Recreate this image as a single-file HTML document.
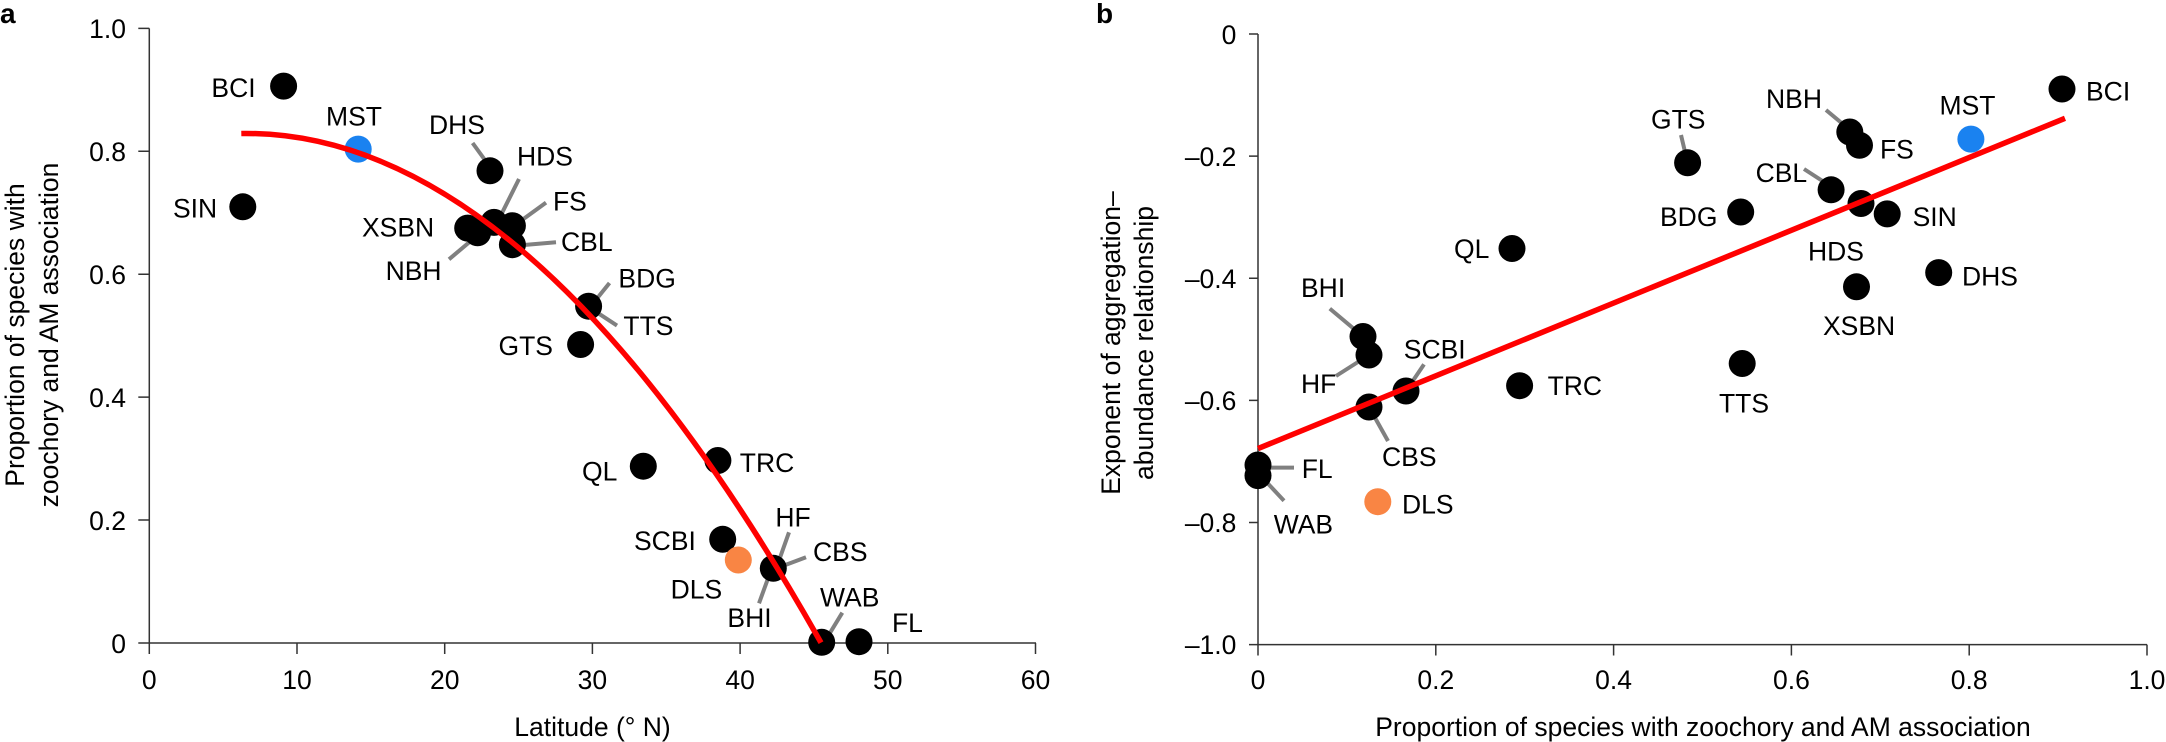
<!DOCTYPE html>
<html><head><meta charset="utf-8"><style>
html,body{margin:0;padding:0;background:#fff;}
svg{display:block;font-family:"Liberation Sans",Arial,sans-serif;}
text{font-size:26.5px;fill:#000;}
.ax{stroke:#333;stroke-width:1.5;fill:none;}
.ld{stroke:#808080;stroke-width:4;}
.k{fill:#000;}
</style></head><body>
<svg width="2166" height="742" viewBox="0 0 2166 742" xmlns="http://www.w3.org/2000/svg">
<!-- Panel a -->
<text x="0" y="23" style="font-weight:bold;font-size:28px">a</text>
<path class="ax" d="M149.3,28.4V643H1036M138.3,28.4H149.3M138.3,151.3H149.3M138.3,274.2H149.3M138.3,397.1H149.3M138.3,520H149.3M138.3,643H149.3M149.3,643V654M297,643V654M444.7,643V654M592.4,643V654M740.1,643V654M887.8,643V654M1035.5,643V654"/>
<g text-anchor="end">
<text x="126" y="38">1.0</text><text x="126" y="161">0.8</text><text x="126" y="284">0.6</text><text x="126" y="407">0.4</text><text x="126" y="530">0.2</text><text x="126" y="653">0</text>
</g>
<g text-anchor="middle">
<text x="149.3" y="689">0</text><text x="297" y="689">10</text><text x="444.7" y="689">20</text><text x="592.4" y="689">30</text><text x="740.1" y="689">40</text><text x="887.8" y="689">50</text><text x="1035.5" y="689">60</text>
<text x="592.5" y="736">Latitude (° N)</text>
<text transform="translate(24,335) rotate(-90)">Proportion of species with</text>
<text transform="translate(58,335) rotate(-90)">zoochory and AM association</text>
</g>
<g class="ld">
<line x1="472.6" y1="143" x2="492.5" y2="170.4"/>
<line x1="519" y1="179" x2="495" y2="227"/>
<line x1="546" y1="202.6" x2="512.4" y2="227"/>
<line x1="556" y1="242.3" x2="512.4" y2="246"/>
<line x1="449" y1="259.3" x2="481.6" y2="231.9"/>
<line x1="609.5" y1="283" x2="589.6" y2="307.6"/>
<line x1="617" y1="325.6" x2="589.6" y2="307.6"/>
<line x1="789" y1="532.3" x2="776.7" y2="567"/>
<line x1="806" y1="557.3" x2="780" y2="567"/>
<line x1="759" y1="603.3" x2="770" y2="573"/>
<line x1="842.3" y1="612.7" x2="826.7" y2="638.3"/>
</g>
<g class="k">
<circle cx="283.6" cy="86.1" r="13.5"/>
<circle cx="242.8" cy="206.8" r="13.5"/>
<circle cx="490" cy="170.8" r="13.5"/>
<circle cx="467.7" cy="228.1" r="13.5"/>
<circle cx="477.6" cy="232.8" r="13.5"/>
<circle cx="494" cy="222.4" r="13.5"/>
<circle cx="512.4" cy="225.7" r="13.5"/>
<circle cx="512.4" cy="244.7" r="13.5"/>
<circle cx="588.6" cy="306.2" r="13.5"/>
<circle cx="580.6" cy="344.5" r="13.5"/>
<circle cx="643.3" cy="466.2" r="13.5"/>
<circle cx="717.9" cy="460.5" r="13.5"/>
<circle cx="722.7" cy="539.3" r="13.5"/>
<circle cx="773.3" cy="568.3" r="13.5"/>
<circle cx="821.7" cy="642.3" r="13.5"/>
<circle cx="859" cy="641.7" r="13.5"/>
</g>
<circle cx="358.2" cy="149.1" r="13.5" fill="#1a82f0"/>
<circle cx="738.3" cy="560" r="13.5" fill="#f98544"/>
<path d="M241.3,133.5 Q531.2,129 821,642.7" stroke="#ff0000" stroke-width="5.5" fill="none"/>
<g>
<text x="211.4" y="97">BCI</text>
<text x="326" y="125.4">MST</text>
<text x="173" y="217.7">SIN</text>
<text x="429" y="134">DHS</text>
<text x="517" y="165.6">HDS</text>
<text x="553" y="210.6">FS</text>
<text x="362" y="236.6">XSBN</text>
<text x="561" y="250.8">CBL</text>
<text x="385.6" y="280">NBH</text>
<text x="618.4" y="287.7">BDG</text>
<text x="623.4" y="335">TTS</text>
<text x="498.5" y="355">GTS</text>
<text x="582" y="480.4">QL</text>
<text x="739.8" y="471.8">TRC</text>
<text x="634" y="550">SCBI</text>
<text x="670.6" y="598.7">DLS</text>
<text x="727.4" y="627">BHI</text>
<text x="793" y="526.7" text-anchor="middle">HF</text>
<text x="813" y="561">CBS</text>
<text x="820" y="606.7">WAB</text>
<text x="892" y="632">FL</text>
</g>

<!-- Panel b -->
<text x="1096" y="23" style="font-weight:bold;font-size:28px">b</text>
<path class="ax" d="M1258,34V644.6H2147M1249,34H1258M1249,156.1H1258M1249,278.2H1258M1249,400.4H1258M1249,522.5H1258M1249,644.6H1258M1258,644.6V655.5M1435.8,644.6V655.5M1613.6,644.6V655.5M1791.4,644.6V655.5M1969.2,644.6V655.5M2147,644.6V655.5"/>
<g text-anchor="end">
<text x="1236.4" y="44">0</text><text x="1236.4" y="166">–0.2</text><text x="1236.4" y="288">–0.4</text><text x="1236.4" y="410">–0.6</text><text x="1236.4" y="532">–0.8</text><text x="1236.4" y="654">–1.0</text>
</g>
<g text-anchor="middle">
<text x="1258" y="689">0</text><text x="1435.8" y="689">0.2</text><text x="1613.6" y="689">0.4</text><text x="1791.4" y="689">0.6</text><text x="1969.2" y="689">0.8</text><text x="2147" y="689">1.0</text>
<text x="1703" y="736">Proportion of species with zoochory and AM association</text>
<text transform="translate(1120,343) rotate(-90)">Exponent of aggregation–</text>
<text transform="translate(1153,343) rotate(-90)">abundance relationship</text>
</g>
<g class="ld">
<line x1="1329.8" y1="308.6" x2="1363" y2="336.5"/>
<line x1="1336" y1="376" x2="1369" y2="355"/>
<line x1="1424" y1="364.4" x2="1406" y2="391"/>
<line x1="1388" y1="441" x2="1369" y2="407"/>
<line x1="1294" y1="467.6" x2="1262" y2="467.6"/>
<line x1="1284" y1="500.7" x2="1258" y2="473"/>
<line x1="1681" y1="135" x2="1687.6" y2="162.8"/>
<line x1="1826" y1="110" x2="1853" y2="132.5"/>
<line x1="1804" y1="169" x2="1834" y2="188.4"/>
</g>
<g class="k">
<circle cx="1512" cy="248.5" r="13.5"/>
<circle cx="1363" cy="336.5" r="13.5"/>
<circle cx="1369" cy="355" r="13.5"/>
<circle cx="1406" cy="391" r="13.5"/>
<circle cx="1369" cy="407" r="13.5"/>
<circle cx="1519.6" cy="385.7" r="13.5"/>
<circle cx="1258" cy="465" r="13.5"/>
<circle cx="1258" cy="475.6" r="13.5"/>
<circle cx="1687.6" cy="162.8" r="13.5"/>
<circle cx="1740.7" cy="212" r="13.5"/>
<circle cx="1849.8" cy="132" r="13.5"/>
<circle cx="1859.5" cy="145.3" r="13.5"/>
<circle cx="1831.1" cy="189.8" r="13.5"/>
<circle cx="1861" cy="203.5" r="13.5"/>
<circle cx="1887.2" cy="213.9" r="13.5"/>
<circle cx="2062" cy="89" r="13.5"/>
<circle cx="1938.7" cy="272.6" r="13.5"/>
<circle cx="1856.5" cy="286.8" r="13.5"/>
<circle cx="1742.2" cy="363.5" r="13.5"/>
</g>
<circle cx="1970.9" cy="139.1" r="13.5" fill="#1a82f0"/>
<circle cx="1377.8" cy="501.7" r="13.5" fill="#f98544"/>
<line x1="1258" y1="448.6" x2="2065" y2="118.3" stroke="#ff0000" stroke-width="5.5"/>
<g>
<text x="1454" y="258">QL</text>
<text x="1301" y="297">BHI</text>
<text x="1301" y="392.8">HF</text>
<text x="1403.8" y="358.7">SCBI</text>
<text x="1382" y="466">CBS</text>
<text x="1547.6" y="395">TRC</text>
<text x="1301.7" y="478">FL</text>
<text x="1273.7" y="533.4">WAB</text>
<text x="1402" y="513.5">DLS</text>
<text x="1651" y="128.7">GTS</text>
<text x="1766" y="108">NBH</text>
<text x="1880" y="158.5">FS</text>
<text x="1755.6" y="182">CBL</text>
<text x="1660" y="226">BDG</text>
<text x="1912.6" y="226">SIN</text>
<text x="1808" y="260.3">HDS</text>
<text x="1962" y="285.4">DHS</text>
<text x="1823" y="335">XSBN</text>
<text x="1719" y="412.7">TTS</text>
<text x="1939.5" y="114.5">MST</text>
<text x="2086" y="100.3">BCI</text>
</g>
</svg>
</body></html>
